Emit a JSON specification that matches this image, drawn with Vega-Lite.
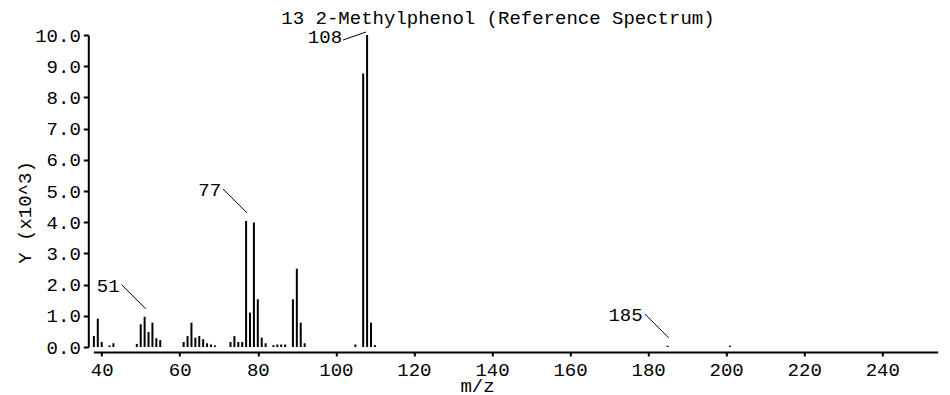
{
  "$schema": "https://vega.github.io/schema/vega-lite/v6.json",
  "autosize": "none",
  "width": 844.4,
  "height": 312,
  "padding": {"left": 93.3, "top": 35, "right": 12.3, "bottom": 48},
  "background": "white",
  "title": {
    "text": "13 2-Methylphenol (Reference Spectrum)",
    "anchor": "middle",
    "dx": -17.5,
    "dy": 17,
    "baseline": "middle",
    "offset": 6,
    "font": "Liberation Mono",
    "fontSize": 19,
    "fontWeight": "normal",
    "color": "black"
  },
  "config": {
    "view": {"stroke": null},
    "axis": {
      "grid": false,
      "domainColor": "black",
      "domainWidth": 2,
      "tickColor": "black",
      "tickWidth": 2,
      "labelFont": "Liberation Mono",
      "labelFontSize": 19,
      "labelColor": "black",
      "labelFlush": false,
      "titleFont": "Liberation Mono",
      "titleFontSize": 19,
      "titleFontWeight": "normal",
      "titleColor": "black"
    }
  },
  "data": {
    "values": [
      {"mz": 38, "intensity": 0.35},
      {"mz": 39, "intensity": 0.91},
      {"mz": 40, "intensity": 0.16},
      {"mz": 42, "intensity": 0.05},
      {"mz": 43, "intensity": 0.12},
      {"mz": 49, "intensity": 0.10},
      {"mz": 50, "intensity": 0.73},
      {"mz": 51, "intensity": 0.97},
      {"mz": 52, "intensity": 0.48},
      {"mz": 53, "intensity": 0.78},
      {"mz": 54, "intensity": 0.28},
      {"mz": 55, "intensity": 0.22},
      {"mz": 61, "intensity": 0.16},
      {"mz": 62, "intensity": 0.35},
      {"mz": 63, "intensity": 0.78},
      {"mz": 64, "intensity": 0.30},
      {"mz": 65, "intensity": 0.35},
      {"mz": 66, "intensity": 0.25},
      {"mz": 67, "intensity": 0.12},
      {"mz": 68, "intensity": 0.08},
      {"mz": 69, "intensity": 0.05},
      {"mz": 73, "intensity": 0.16},
      {"mz": 74, "intensity": 0.35},
      {"mz": 75, "intensity": 0.16},
      {"mz": 76, "intensity": 0.16},
      {"mz": 77, "intensity": 4.04},
      {"mz": 78, "intensity": 1.10},
      {"mz": 79, "intensity": 3.99},
      {"mz": 80, "intensity": 1.53},
      {"mz": 81, "intensity": 0.30},
      {"mz": 82, "intensity": 0.12},
      {"mz": 84, "intensity": 0.06},
      {"mz": 85, "intensity": 0.08},
      {"mz": 86, "intensity": 0.08},
      {"mz": 87, "intensity": 0.08},
      {"mz": 89, "intensity": 1.53},
      {"mz": 90, "intensity": 2.51},
      {"mz": 91, "intensity": 0.78},
      {"mz": 92, "intensity": 0.12},
      {"mz": 105, "intensity": 0.08},
      {"mz": 107, "intensity": 8.77},
      {"mz": 108, "intensity": 10.0},
      {"mz": 109, "intensity": 0.78},
      {"mz": 110, "intensity": 0.06},
      {"mz": 185, "intensity": 0.04},
      {"mz": 201, "intensity": 0.04}
    ]
  },
  "encoding": {
    "x": {
      "field": "mz",
      "type": "quantitative",
      "scale": {"domain": [37.85, 254.2], "nice": false, "zero": false},
      "axis": {
        "title": "m/z",
        "values": [40, 60, 80, 100, 120, 140, 160, 180, 200, 220, 240],
        "offset": 5,
        "tickSize": 4,
        "labelPadding": 13,
        "labelBaseline": "middle",
        "titleX": 383.7,
        "titleY": 33,
        "titleAlign": "center",
        "titleBaseline": "middle"
      }
    },
    "y": {
      "field": "intensity",
      "type": "quantitative",
      "scale": {"domain": [0, 10], "nice": false},
      "axis": {
        "title": "Y (x10^3)",
        "values": [0, 1, 2, 3, 4, 5, 6, 7, 8, 9, 10],
        "format": ".1f",
        "offset": 5,
        "tickSize": 5,
        "labelPadding": 3,
        "titleAngle": 270,
        "titleX": -64.3,
        "titleY": 177,
        "titleAlign": "center",
        "titleBaseline": "middle"
      }
    }
  },
  "layer": [
    {
      "mark": {"type": "rule", "strokeWidth": 2, "color": "black"},
      "encoding": {"y2": {"datum": 0}}
    },
    {
      "transform": [{"filter": {"field": "mz", "oneOf": [51, 77, 185]}}],
      "mark": {"type": "rule", "strokeWidth": 1, "color": "black", "xOffset": -23, "yOffset": -32, "x2Offset": 1, "y2Offset": -8},
      "encoding": {"x2": {"field": "mz"}, "y2": {"field": "intensity"}}
    },
    {
      "transform": [{"filter": {"field": "mz", "oneOf": [51, 77, 185]}}],
      "mark": {"type": "text", "align": "right", "baseline": "middle", "dx": -25, "dy": -31, "font": "Liberation Mono", "fontSize": 19, "color": "black"},
      "encoding": {"text": {"field": "mz", "type": "nominal"}}
    },
    {
      "transform": [{"filter": {"field": "mz", "equal": 108}}],
      "mark": {"type": "rule", "strokeWidth": 1, "color": "black", "xOffset": -24, "yOffset": 5, "x2Offset": -1, "y2Offset": -3},
      "encoding": {"x2": {"field": "mz"}, "y2": {"field": "intensity"}}
    },
    {
      "transform": [{"filter": {"field": "mz", "equal": 108}}],
      "mark": {"type": "text", "align": "right", "baseline": "middle", "dx": -25, "dy": 2, "font": "Liberation Mono", "fontSize": 19, "color": "black"},
      "encoding": {"text": {"field": "mz", "type": "nominal"}}
    }
  ]
}
